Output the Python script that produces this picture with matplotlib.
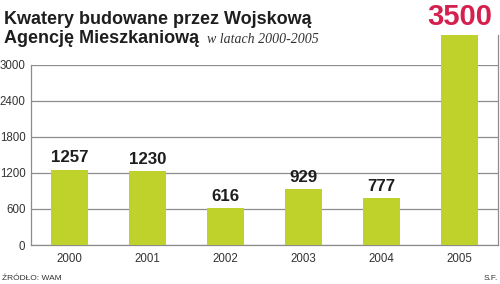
import matplotlib
matplotlib.use("Agg")
import matplotlib.pyplot as plt

years = ["2000", "2001", "2002", "2003", "2004", "2005"]
values = [1257, 1230, 616, 929, 777, 3500]
yticks = [0, 600, 1200, 1800, 2400, 3000]

green = "#bfd12b"
red = "#d4204d"
grid = "#8c8c8c"
dark = "#1e1e1e"

fig = plt.figure(figsize=(5.0, 2.84), dpi=100)
ax = fig.add_axes([0.062, 0.1373, 0.934, 0.634])

x = list(range(len(years)))
ax.bar(x, values, width=0.47, color=green, zorder=3, clip_on=False)
ax.set_xlim(-0.49, 5.49)
ax.set_ylim(0, 3000)
ax.set_yticks(yticks)
ax.set_yticklabels([str(v) for v in yticks])
ax.set_xticks(x)
ax.set_xticklabels(years)
ax.yaxis.grid(True, color=grid, linewidth=0.9, zorder=0)
ax.tick_params(length=0, labelsize=8.3, colors="#333333", pad=4)
ax.tick_params(axis="x", pad=6)
for lab in ax.get_xticklabels() + ax.get_yticklabels():
    lab.set_family("Liberation Sans")
for s in ["left", "right", "bottom"]:
    ax.spines[s].set_color(grid)
    ax.spines[s].set_linewidth(0.9)
ax.spines["top"].set_visible(False)
ax.spines["right"].set_bounds(0, 3500)

for xi, v in zip(x, values):
    if v == max(values):
        ax.annotate(str(v), (xi, v), xytext=(0, 3), textcoords="offset points",
                    ha="center", va="bottom", fontsize=21, fontweight="bold",
                    color=red, family="Liberation Sans", annotation_clip=False)
    else:
        ax.annotate(str(v), (xi, v), xytext=(0, 3), textcoords="offset points",
                    ha="center", va="bottom", fontsize=12.2, fontweight="bold",
                    color=dark, family="Liberation Sans", annotation_clip=False)

fig.text(4 / 500, 1 - 24 / 284, "Kwatery budowane przez Wojskową", fontsize=13,
         fontweight="bold", color=dark, family="Liberation Sans", ha="left", va="baseline")
fig.text(4 / 500, 1 - 43 / 284, "Agencję Mieszkaniową", fontsize=13,
         fontweight="bold", color=dark, family="Liberation Sans", ha="left", va="baseline")
fig.text(207 / 500, 1 - 43 / 284, "w latach 2000-2005", fontsize=10, style="italic",
         color="#333333", family="Liberation Serif", ha="left", va="baseline")
fig.text(2 / 500, 1 - 279 / 284, "ŹRÓDŁO: WAM", fontsize=6, color="#333333",
         family="Liberation Sans", ha="left", va="center")
fig.text(498 / 500, 1 - 279 / 284, "S.F.", fontsize=6, color="#333333",
         family="Liberation Sans", ha="right", va="center")

fig.savefig("out.png", dpi=100)
